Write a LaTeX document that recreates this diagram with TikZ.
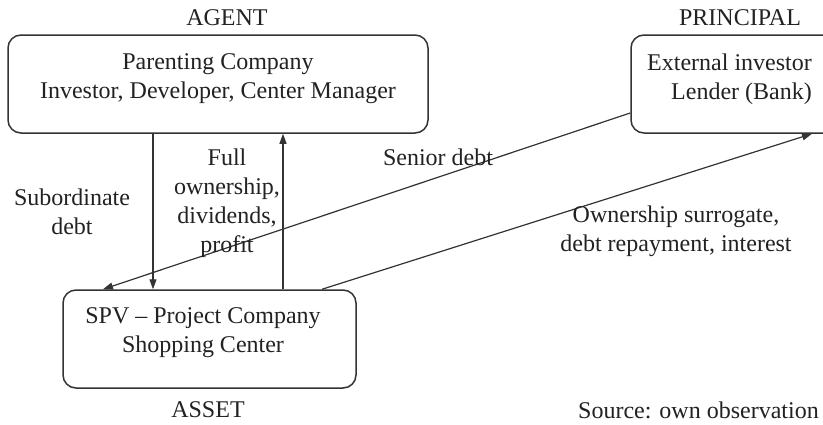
\documentclass[tikz,border=0pt]{standalone}
\usepackage{fontspec}
\setmainfont{Liberation Serif}
\usetikzlibrary{arrows.meta}
\definecolor{ink}{HTML}{222222}
\definecolor{linec}{HTML}{333333}
\begin{document}
\begin{tikzpicture}[x=1pt,y=-1pt,
  every node/.style={text=ink, font=\fontsize{24}{29}\selectfont, inner sep=0pt, align=center},
  boxshape/.style={draw=linec, line width=1.5pt, rounded corners=13pt},
  arr/.style={draw=linec, line width=1.2pt, -{Triangle[length=10pt,width=7pt]}}]
\clip (0,0) rectangle (823,424);
\fill[white] (0,0) rectangle (823,424);
% boxes
\node[boxshape, minimum width=420pt, minimum height=98pt] (agentbox) at (218,84) {};
\node[boxshape, minimum width=222pt, minimum height=98pt] (lenderbox) at (742,84) {};
\node[boxshape, minimum width=293pt, minimum height=98pt] (spvbox) at (209.5,339) {};
% box texts
\node (agenttext) at (218,79) {Parenting Company\\Investor, Developer, Center Manager};
\node[align=right, anchor=east] (lendertext) at (812,79) {External investor\\Lender (Bank)};
\node (spvtext) at (203,333) {SPV -- Project Company\\Shopping Center};
% role labels
\node (agent) at (227,18) {AGENT};
\node (principal) at (740,18) {PRINCIPAL};
\node (asset) at (208,410) {ASSET};
\node[anchor=east] (source) at (819,410) {Source: own observation};
% connectors
\draw[arr] (agentbox.south -| 153,0) -- (spvbox.north -| 153,0);
\draw[arr] (spvbox.north -| 283,0) -- (agentbox.south -| 283,0);
\draw[arr] (lenderbox.west |- 0,113) -- (spvbox.north -| 103,0);
\draw[arr] (spvbox.north -| 322,0) -- (lenderbox.south -| 812,0);
% connector labels
\node (subdebt) at (72,212) {Subordinate\\debt};
\node (fullown) at (227,203) {Full\\ownership,\\dividends,\\profit};
\node (senior) at (438,157) {Senior debt};
\node (ownsur) at (676,231) {Ownership surrogate,\\debt repayment, interest};
\end{tikzpicture}
\end{document}
